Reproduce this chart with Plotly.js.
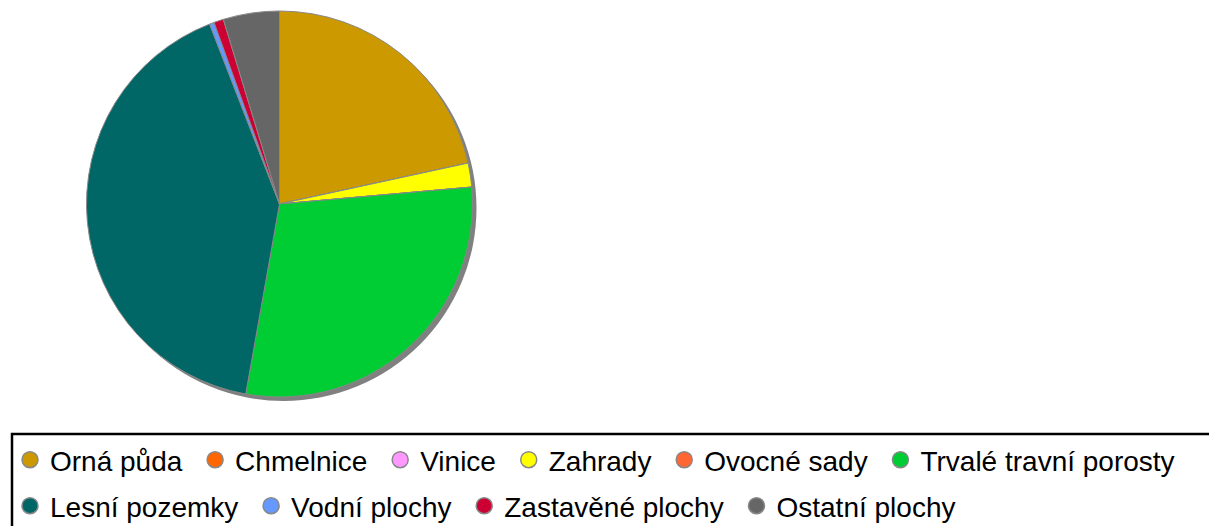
<!DOCTYPE html>
<html><head><meta charset="utf-8">
<script src="https://cdn.plot.ly/plotly-3.0.1.min.js"></script>
<style>html,body{margin:0;padding:0;background:#fff}</style>
</head><body><div id="chart" style="width:1209px;height:526px"></div>
<script>
const categories = ["Orná půda","Chmelnice","Vinice","Zahrady","Ovocné sady","Trvalé travní porosty","Lesní pozemky","Vodní plochy","Zastavěné plochy","Ostatní plochy"];
const values = [21.6, 0, 0, 2.0, 0, 29.2, 41.3, 0.4, 0.8, 4.7];
const colors = ["#CC9900","#FF6600","#FF99FF","#FFFF00","#FF6633","#00CC33","#006666","#6699FF","#CC0033","#666666"];
const row1 = 6; // number of legend entries in the first row

const W = 1209, H = 526;
const cx = 279.5, cy = 204, r = 193, sh = 4;
const px = v => v / W, py = v => 1 - v / H;

const traces = [{
  type: "pie", labels: categories, values: values, sort: false, direction: "clockwise", rotation: 0,
  marker: {colors: colors, line: {color: "#888888", width: 1}},
  textinfo: "none", hoverinfo: "label+percent", showlegend: false,
  domain: {x: [px(cx - r), px(cx + r)], y: [py(cy + r), py(cy - r)]}
}];
categories.forEach((c, i) => {
  traces.push({
    type: "scatter", mode: "markers", x: [null], y: [null], name: c + "\u00a0",
    marker: {symbol: "circle", size: 16, color: colors[i], line: {color: "#888888", width: 1.5}},
    legend: i < row1 ? "legend" : "legend2", hoverinfo: "skip"
  });
});

const legFont = {family: "Liberation Sans, Arial, sans-serif", size: 28, color: "#000"};
const legBase = {orientation: "h", x: px(10), xanchor: "left", yanchor: "top",
  font: legFont, bgcolor: "rgba(0,0,0,0)", itemwidth: 30, tracegroupgap: 0, itemsizing: "trace"};
const layout = {
  width: W, height: H, margin: {l: 0, r: 0, t: 0, b: 0, autoexpand: false},
  paper_bgcolor: "#fff", plot_bgcolor: "rgba(0,0,0,0)",
  xaxis: {visible: false, domain: [0.99, 1]}, yaxis: {visible: false, domain: [0.99, 1]},
  legend: Object.assign({}, legBase, {y: py(435)}),
  legend2: Object.assign({}, legBase, {y: py(481)}),
  shapes: [
    {type: "circle", xref: "paper", yref: "paper", layer: "below",
      x0: px(cx + sh - r), x1: px(cx + sh + r), y0: py(cy + sh + r), y1: py(cy + sh - r),
      fillcolor: "#808080", line: {width: 0}},
    {type: "rect", xref: "paper", yref: "paper", layer: "above",
      x0: px(12), x1: px(1214), y0: py(532), y1: py(434),
      line: {color: "#000", width: 2.5}, fillcolor: "rgba(0,0,0,0)"}
  ]
};
Plotly.newPlot("chart", traces, layout, {displayModeBar: false, staticPlot: true});
</script></body></html>
